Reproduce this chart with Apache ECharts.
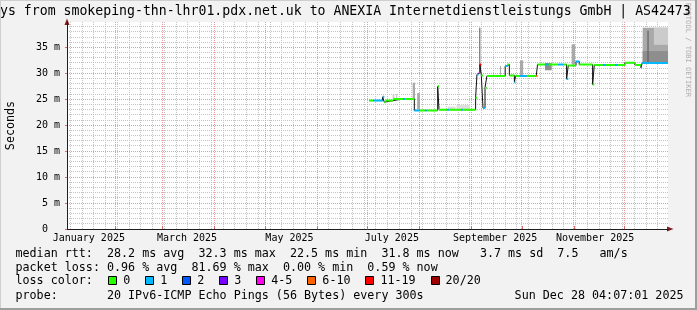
<!DOCTYPE html>
<html><head><meta charset="utf-8">
<script src="https://cdn.jsdelivr.net/npm/echarts@6/dist/echarts.min.js"></script>
<style>html,body{margin:0;padding:0;background:#f2f2f2}#c{width:697px;height:310px}</style>
</head><body><div id="c"></div>
<script>
// ---- axis structure (x in days since 2025-01-01 00:00) ----
const X_MIN = 2.0, X_MAX = 360.0;
const Y_MIN = 0, Y_MAX = 39.9;
const monthStartDays = [31, 59, 90, 120, 151, 181, 212, 243, 273, 304, 334];
const monthLabelDays = [15, 73.5, 134.5, 195.5, 257, 316.6];
const monthLabels = ['January 2025', 'March 2025', 'May 2025', 'July 2025', 'September 2025', 'November 2025'];
const yMajorTicks = [0, 5, 10, 15, 20, 25, 30, 35];
const yTickLabels = ['0  ', '5 m', '10 m', '15 m', '20 m', '25 m', '30 m', '35 m'];

// ---- median rtt (ms), step starts, with loss class per step ----
const medianDays = [182.0, 184.4, 190.0, 191.0, 191.6, 196.3, 202.3, 203.3, 208.9, 212.2, 215.2, 216.2, 222.8, 223.6, 228.5, 229.5, 236.7, 237.7, 245.4, 246.2, 247.2, 248.0, 248.8, 249.8, 251.0, 252.1, 263.0, 264.2, 265.5, 268.5, 269.2, 271.8, 275.8, 281.5, 282.3, 286.7, 288.7, 294.6, 297.6, 299.6, 300.6, 305.2, 307.1, 315.1, 316.1, 321.2, 323.0, 328.4, 330.2, 334.3, 340.3, 343.9, 344.6];
const medianMs   = [24.75, 24.75, 25.47, 24.45, 24.75, 25.08, 25.08, 25.08, 22.85, 22.85, 22.85, 22.85, 27.5, 23.0, 23.0, 23.0, 23.0, 23.0, 25.3, 29.8, 30.1, 31.7, 29.6, 23.3, 27.2, 29.5, 31.4, 31.7, 29.6, 28.3, 29.5, 29.5, 29.5, 29.5, 31.7, 31.7, 31.7, 31.7, 31.7, 28.9, 31.5, 32.3, 31.7, 27.85, 31.6, 31.6, 31.6, 31.6, 31.6, 32.05, 31.6, 31.07, 32.0];
const medianLoss = [0, 1, 1, 0, 0, 0, 1, 0, 1, 0, 1, 0, 0, 0, 1, 0, 1, 0, 0, 1, 4, 6, 0, 1, 0, 0, 1, 0, 0, 1, 0, 1, 0, 5, 0, 1, 0, 1, 0, 1, 0, 1, 0, 0, 0, 1, 0, 1, 0, 0, 0, 1, 1];

// ---- smoke (ping spread) ----
const smokeStart = [196.0, 198.0, 207.9, 210.6, 228.9, 234.0, 247.6, 259.9, 271.8, 286.7, 302.6, 344.9, 351.6, 344.9, 347.8];
const smokeEnd   = [197.0, 198.7, 209.3, 212.2, 233.5, 242.0, 248.2, 260.5, 273.7, 290.7, 304.6, 360.0, 360.0, 360.0, 348.4];
const smokeLow   = [25.0, 25.1, 25.1, 23.0, 22.9, 22.9, 30.0, 29.6, 29.6, 30.6, 31.7, 32.0, 35.5, 32.0, 32.0];
const smokeHigh  = [26.0, 26.0, 28.2, 26.2, 23.6, 23.9, 38.8, 31.4, 32.5, 32.0, 35.6, 38.8, 38.8, 34.3, 38.2];
const smokeShade = [0, 0, 1, 1, 2, 2, 3, 1, 1, 4, 1, 1, 0, 4, 3];
const SHADES = ['#cbcbcb', '#a9a9a9', '#dedede', '#555555', '#8e8e8e'];

// ---- legend ----
const lossLabels = ['0', '1', '2', '3', '4-5', '6-10', '11-19', '20/20'];
const lossColors = ['#26ff00', '#00b8ff', '#0059ff', '#7800ff', '#ff00f0', '#ff6000', '#ff0000', '#a10000'];
const legendLine1 = 'median rtt:  28.2 ms avg  32.3 ms max  22.5 ms min  31.8 ms now   3.7 ms sd  7.5   am/s';
const legendLine2 = 'packet loss: 0.96 % avg  81.69 % max  0.00 % min  0.59 % now';
const legendLine3 = 'loss color:';
const legendLine4 = 'probe:       20 IPv6-ICMP Echo Pings (56 Bytes) every 300s';
const dateText = 'Sun Dec 28 04:07:01 2025';
const titleText = 'ys from smokeping-thn-lhr01.pdx.net.uk to ANEXIA Internetdienstleistungs GmbH | AS42473';

// grid helper ticks (weekly minor verticals, 1 ms minor horizontals)
const weekDays = [];
for (let d = 4; d < X_MAX; d += 7) if (d > X_MIN) weekDays.push(d);
const yMinorTicks = [];
for (let v = 1; v < Y_MAX; v++) if (v % 5 !== 0) yMinorTicks.push(v);

const FONT = '"DejaVu Sans Mono", monospace';
const GRID_MINOR = '#c4c4c4', GRID_MAJOR = '#eb9a9a', ARROW = '#801f1f', AXIS = '#1f1f1f';
const chart = echarts.init(document.getElementById('c'), null, {renderer: 'canvas', width: 697, height: 310});

const medianData = medianDays.map((d, i) => [d, medianMs[i]]);
medianData.push([X_MAX, medianMs[medianMs.length - 1]]);

const bandSeries = lossColors.map((c, k) => {
  const data = [];
  for (let i = 0; i < medianDays.length; i++) {
    if (medianLoss[i] !== k) continue;
    const d1 = i + 1 < medianDays.length ? medianDays[i + 1] : X_MAX;
    data.push([medianDays[i], medianMs[i]], [d1, medianMs[i]], [d1, null]);
  }
  return {type: 'line', data, symbol: 'none', showSymbol: false, connectNulls: false,
    lineStyle: {color: c, width: 2}, itemStyle: {color: c}, silent: true, z: 4, animation: false};
});

const smokeData = smokeStart.map((s, i) => [s, smokeEnd[i], smokeLow[i], smokeHigh[i], smokeShade[i]]);

// grid line data: [position, major?]
const vGridData = weekDays.map(d => [d, 0]).concat(monthStartDays.map(d => [d, 1]));
const hGridData = yMinorTicks.map(v => [v, 0]).concat(yMajorTicks.filter(v => v > 0).map(v => [v, 1]));

const crisp = v => Math.round(v - 0.5) + 0.5;

const legendGraphics = [];
const LX = 15.5, LFS = 11.7;
[[legendLine1, 253.5], [legendLine2, 268], [legendLine3, 281], [legendLine4, 295.5]].forEach(([t, y]) => {
  legendGraphics.push({type: 'text', x: LX, y: y, style: {text: t, font: LFS + 'px ' + FONT, fill: '#000', textVerticalAlign: 'middle', textAlign: 'left'}});
});
legendGraphics.push({type: 'text', x: 683.5, y: 295.5, style: {text: dateText, font: LFS + 'px ' + FONT, fill: '#000', textVerticalAlign: 'middle', textAlign: 'right'}});
let bx = 108.3;
lossLabels.forEach((lab, k) => {
  legendGraphics.push({type: 'rect', shape: {x: Math.round(bx) + 0.5, y: 276.5, width: 8, height: 8}, style: {fill: lossColors[k], stroke: '#000', lineWidth: 1}});
  legendGraphics.push({type: 'text', x: bx + 15, y: 281, style: {text: lab, font: LFS + 'px ' + FONT, fill: '#000', textVerticalAlign: 'middle', textAlign: 'left'}});
  bx += 37 + 7.03 * (lab.length - 1);
});

const option = {
  animation: false,
  backgroundColor: '#f2f2f2',
  grid: {left: 67, right: 29, top: 22, bottom: 81, show: true, backgroundColor: '#ffffff', borderWidth: 0,
    containLabel: false, outerBoundsMode: 'none'},
  xAxis: [
    {type: 'value', min: X_MIN, max: X_MAX, position: 'bottom',
      axisLine: {show: true, onZero: false, lineStyle: {color: AXIS, width: 1}},
      axisTick: {show: true, inside: true, length: 3, customValues: monthStartDays, lineStyle: {color: '#d86a6a'}},
      splitLine: {show: false},
      axisLabel: {show: true, customValues: monthLabelDays, margin: 4, color: '#000', fontFamily: FONT, fontSize: 10,
        formatter: (v) => { const i = monthLabelDays.indexOf(v); return i >= 0 ? monthLabels[i] : ''; }},
      z: 5}
  ],
  yAxis: [
    {type: 'value', min: Y_MIN, max: Y_MAX,
      name: 'Seconds', nameLocation: 'middle', nameGap: 50, nameRotate: 90,
      nameTextStyle: {fontFamily: FONT, fontSize: 11.7, color: '#000'},
      axisLine: {show: true, onZero: false, lineStyle: {color: AXIS, width: 1}},
      axisTick: {show: true, length: 2, customValues: yMajorTicks, lineStyle: {color: '#d86a6a'}},
      splitLine: {show: false},
      axisLabel: {show: true, customValues: yMajorTicks, margin: 7, color: '#000', fontFamily: FONT, fontSize: 10,
        formatter: (v) => { const i = yMajorTicks.indexOf(v); return i >= 0 ? yTickLabels[i] : ''; }},
      z: 5}
  ],
  series: [
    {type: 'custom', name: 'vgrid', data: vGridData, z: 1, silent: true, clip: false,
      encode: {x: 0},
      renderItem: (params, api) => {
        const d = api.value(0), major = api.value(1);
        const p0 = api.coord([d, Y_MIN]), p1 = api.coord([d, Y_MAX]);
        const x = crisp(p0[0]);
        return {type: 'line', z2: major ? 2 : 1, shape: {x1: x, y1: p0[1], x2: x, y2: p1[1]},
          style: {stroke: major ? GRID_MAJOR : GRID_MINOR, lineWidth: 1, lineDash: [1, 1]}};
      }},
    {type: 'custom', name: 'hgrid', data: hGridData, z: 1, silent: true, clip: false,
      encode: {y: 0},
      renderItem: (params, api) => {
        const v = api.value(0), major = api.value(1);
        const p0 = api.coord([X_MIN, v]), p1 = api.coord([X_MAX, v]);
        const y = crisp(p0[1]);
        return {type: 'line', z2: major ? 2 : 1, shape: {x1: p0[0], y1: y, x2: p1[0], y2: y},
          style: {stroke: major ? GRID_MAJOR : GRID_MINOR, lineWidth: 1, lineDash: [1, 1]}};
      }},
    {type: 'custom', name: 'smoke', data: smokeData, z: 2, silent: true,
      encode: {x: [0, 1], y: [2, 3]},
      renderItem: (params, api) => {
        const p0 = api.coord([api.value(0), api.value(3)]);
        const p1 = api.coord([api.value(1), api.value(2)]);
        return {type: 'rect', shape: {x: p0[0], y: p0[1], width: Math.max(p1[0] - p0[0], 1), height: p1[1] - p0[1]},
          style: {fill: SHADES[api.value(4)]}};
      }},
    {type: 'line', data: medianData, step: 'end', symbol: 'none', showSymbol: false,
      lineStyle: {color: '#111', width: 1}, z: 3, silent: true},
    ...bandSeries
  ],
  graphic: [
    {type: 'text', x: 688, y: 50, rotation: -Math.PI / 2, silent: true,
      style: {text: 'RRDTOOL / TOBI OETIKER', font: '7.1px ' + FONT, fill: '#b0b0b0', textAlign: 'center', textVerticalAlign: 'middle'}},
    {type: 'text', x: 0, y: 12, silent: true,
      style: {text: titleText, font: '13.2px ' + FONT, fill: '#000', textAlign: 'left', textVerticalAlign: 'middle'}},
    {type: 'polygon', shape: {points: [[67, 18.5], [64.5, 25], [69.5, 25]]}, style: {fill: ARROW}},
    {type: 'polygon', shape: {points: [[673.5, 229], [667, 226.5], [667, 231.5]]}, style: {fill: ARROW}},
    {type: 'rect', shape: {x: 0, y: 0, width: 697, height: 1}, style: {fill: '#cfcfcf'}},
    {type: 'rect', shape: {x: 0, y: 0, width: 1, height: 310}, style: {fill: '#cfcfcf'}},
    {type: 'rect', shape: {x: 695, y: 0, width: 2, height: 310}, style: {fill: '#9e9e9e'}},
    {type: 'rect', shape: {x: 0, y: 308, width: 697, height: 2}, style: {fill: '#9e9e9e'}},
    ...legendGraphics
  ]
};
chart.setOption(option);
</script></body></html>
